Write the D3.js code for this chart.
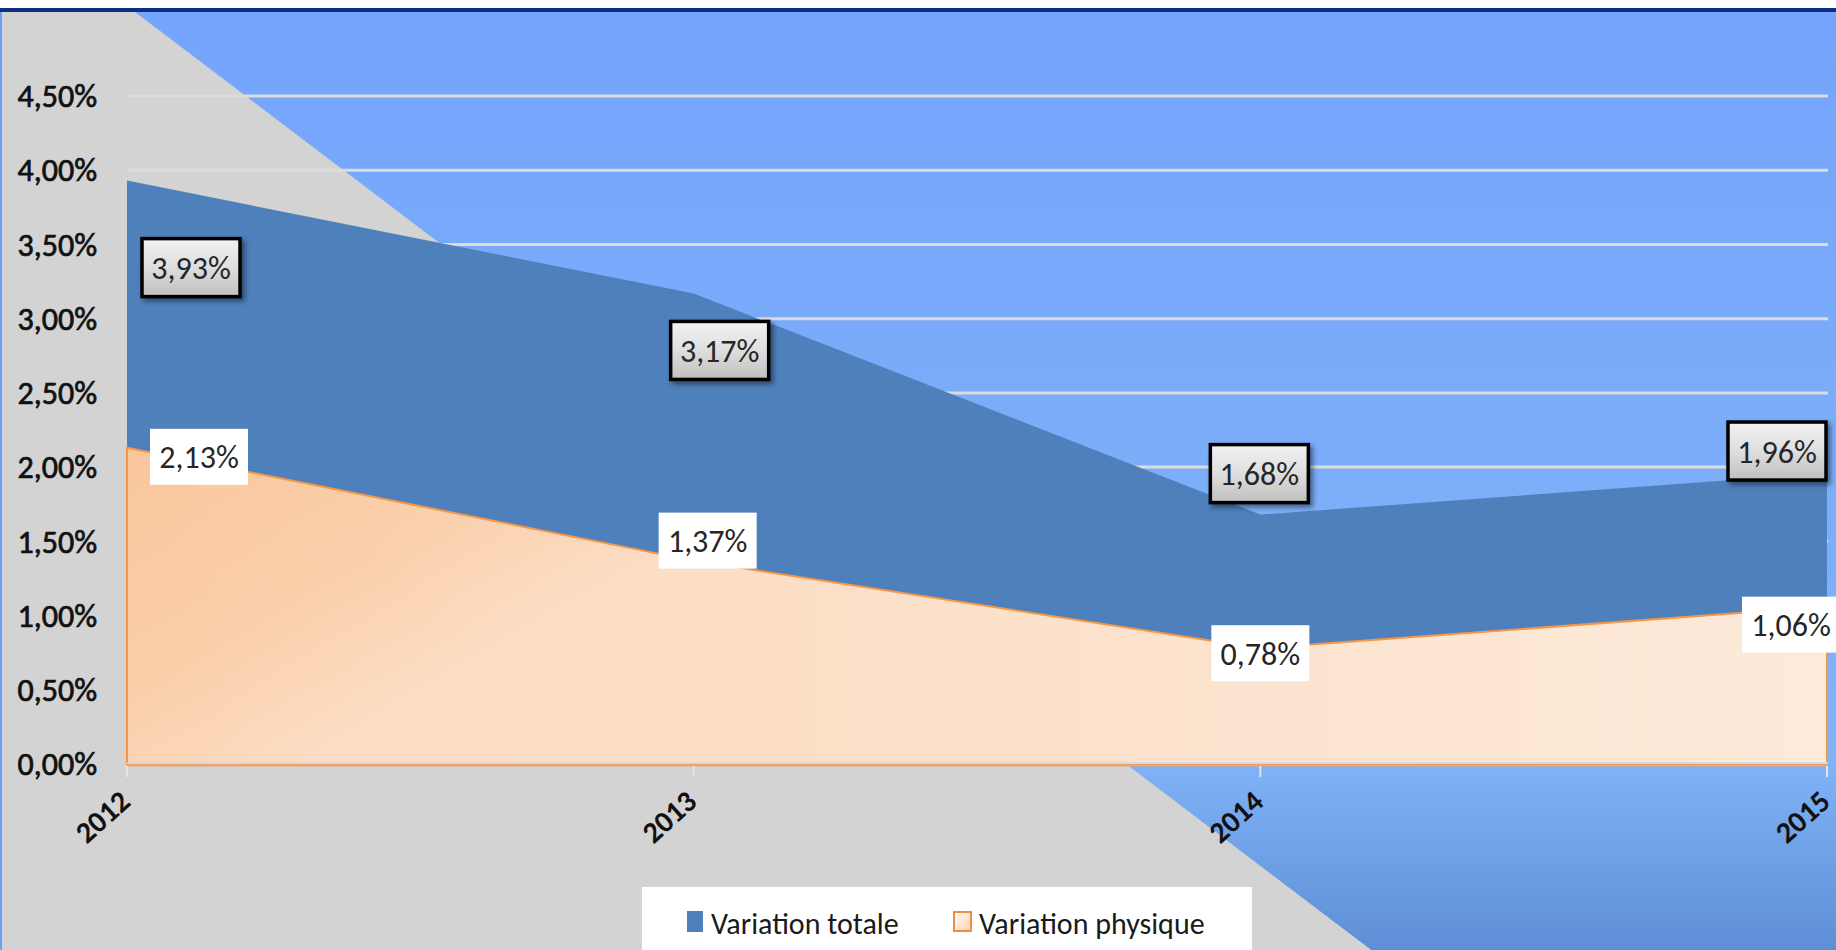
<!DOCTYPE html>
<html>
<head>
<meta charset="utf-8">
<script src="https://cdn.jsdelivr.net/npm/d3@7"></script>
<style>
  html, body { margin: 0; padding: 0; background: #fff; }
  svg { display: block; }
</style>
</head>
<body>
<svg id="chart" width="1836" height="950"></svg>
<script>
// ---- data ----
const years = ["2012", "2013", "2014", "2015"];
const variationTotale = [3.93, 3.17, 1.68, 1.96];
const variationPhysique = [2.13, 1.37, 0.78, 1.06];
const yTicks = [0, 0.5, 1, 1.5, 2, 2.5, 3, 3.5, 4, 4.5];
const seriesNames = ["Variation totale", "Variation physique"];

// ---- layout (label offsets relative to their point) ----
const totalLabelOffsets = [[64, 87], [26, 57], [-1, -41], [-50, -22]];
const physLabelOffsets = [[72, 9], [14, -20], [0, 5], [-36, 18]];

const W = 1836, H = 950;
const FONT = "Carlito, Calibri, Lato, 'Open Sans', sans-serif";
const svg = d3.select("#chart");
const defs = svg.append("defs");

// gradients
const bgGrad = defs.append("linearGradient").attr("id", "bgBlue")
  .attr("x1", 0).attr("y1", 0).attr("x2", 0).attr("y2", 1);
bgGrad.append("stop").attr("offset", "0").attr("stop-color", "#74a4fc");
bgGrad.append("stop").attr("offset", "0.8").attr("stop-color", "#80b3f8");
bgGrad.append("stop").attr("offset", "1").attr("stop-color", "#5e8fd6");

const physGrad = defs.append("linearGradient").attr("id", "physGrad")
  .attr("gradientUnits", "userSpaceOnUse")
  .attr("x1", 127).attr("y1", 448).attr("x2", 300).attr("y2", 764);
physGrad.append("stop").attr("offset", "0").attr("stop-color", "#f9c69c");
physGrad.append("stop").attr("offset", "0.6").attr("stop-color", "#facfaa");
physGrad.append("stop").attr("offset", "1").attr("stop-color", "#fcdcc2");

const physLight = defs.append("linearGradient").attr("id", "physLight")
  .attr("gradientUnits", "userSpaceOnUse")
  .attr("x1", 127).attr("y1", 0).attr("x2", 1827).attr("y2", 0);
physLight.append("stop").attr("offset", "0").attr("stop-color", "#ffffff").attr("stop-opacity", 0);
physLight.append("stop").attr("offset", "0.4").attr("stop-color", "#ffffff").attr("stop-opacity", 0.08);
physLight.append("stop").attr("offset", "1").attr("stop-color", "#ffffff").attr("stop-opacity", 0.4);

const boxGrad = defs.append("linearGradient").attr("id", "boxGrad")
  .attr("x1", 0).attr("y1", 0).attr("x2", 0).attr("y2", 1);
boxGrad.append("stop").attr("offset", "0").attr("stop-color", "#f2f2f2");
boxGrad.append("stop").attr("offset", "0.5").attr("stop-color", "#dedede");
boxGrad.append("stop").attr("offset", "1").attr("stop-color", "#bfbfbf");

const legGrad = defs.append("linearGradient").attr("id", "legGrad")
  .attr("x1", 0).attr("y1", 0).attr("x2", 1).attr("y2", 1);
legGrad.append("stop").attr("offset", "0").attr("stop-color", "#ffffff");
legGrad.append("stop").attr("offset", "1").attr("stop-color", "#fbcfac");

const shadow = defs.append("filter").attr("id", "shadow")
  .attr("x", "-20%").attr("y", "-20%").attr("width", "150%").attr("height", "150%");
shadow.append("feDropShadow").attr("dx", 3).attr("dy", 3).attr("stdDeviation", 2.5)
  .attr("flood-color", "#000").attr("flood-opacity", 0.45);

// ---- background ----
svg.append("rect").attr("x", 0).attr("y", 0).attr("width", W).attr("height", H).attr("fill", "url(#bgBlue)");
svg.append("polygon")
  .attr("points", [[0, 12], [135, 12], [135 + (H - 12) * 1.318, H], [0, H]].map(p => p.join(",")).join(" "))
  .attr("fill", "#d3d3d3");
svg.append("rect").attr("x", 0).attr("y", 0).attr("width", W).attr("height", 8).attr("fill", "#ffffff");
svg.append("rect").attr("x", 0).attr("y", 8).attr("width", W).attr("height", 4).attr("fill", "#0b2e7e");
svg.append("rect").attr("x", 0).attr("y", 12).attr("width", 2).attr("height", H - 12).attr("fill", "#6e9ef6");

// ---- scales ----
const x = d3.scalePoint().domain(years).range([127, 1827]);
const y = d3.scaleLinear().domain([0, 4.5]).range([764, 96]);

const locale = d3.formatLocale({ decimal: ",", thousands: " ", grouping: [3], currency: ["", "€"] });
const fmt = v => locale.format(".2f")(v) + "%";

// ---- gridlines ----
svg.append("g").selectAll("line").data(yTicks.filter(t => t > 0)).join("line")
  .attr("x1", 127).attr("x2", 1828)
  .attr("y1", d => y(d)).attr("y2", d => y(d))
  .attr("stroke", "#dcdcdc").attr("stroke-width", 3);

// ---- areas ----
const totalData = years.map((yr, i) => ({ yr, v: variationTotale[i] }));
const physData = years.map((yr, i) => ({ yr, v: variationPhysique[i] }));
const area = d3.area().x(d => x(d.yr)).y0(y(0)).y1(d => y(d.v));

svg.append("path").datum(totalData).attr("d", area).attr("fill", "#4e80bc");

svg.append("path").datum(physData).attr("d", area).attr("fill", "url(#physGrad)");
svg.append("path").datum(physData).attr("d", area).attr("fill", "url(#physLight)")
  .attr("stroke", "#f79646").attr("stroke-width", 2);

// axis line + ticks
svg.append("line").attr("x1", 127).attr("x2", 1828).attr("y1", y(0) - 1).attr("y2", y(0) - 1)
  .attr("stroke", "#d9d9d9").attr("stroke-width", 2);
svg.append("line").attr("x1", 127).attr("x2", 1828).attr("y1", y(0) + 1.5).attr("y2", y(0) + 1.5)
  .attr("stroke", "#e8a77a").attr("stroke-width", 2);
svg.append("g").selectAll("line").data(years).join("line")
  .attr("x1", d => x(d)).attr("x2", d => x(d)).attr("y1", y(0) + 2).attr("y2", y(0) + 13)
  .attr("stroke", "#e4e4e4").attr("stroke-width", 2);

// ---- y axis labels ----
svg.append("g").selectAll("text").data(yTicks).join("text")
  .attr("x", 97).attr("y", d => y(d))
  .attr("dy", "0.35em")
  .attr("text-anchor", "end")
  .attr("font-family", FONT).attr("font-size", 32).attr("font-weight", 400)
  .attr("fill", "#111").attr("stroke", "#111").attr("stroke-width", 0.7)
  .text(d => fmt(d));

// ---- x axis labels ----
svg.append("g").selectAll("text").data(years).join("text")
  .attr("transform", d => `translate(${x(d) + 5},${y(0) + 40}) rotate(-42)`)
  .attr("text-anchor", "end")
  .attr("font-family", FONT).attr("font-size", 30).attr("font-weight", 800)
  .attr("fill", "#111")
  .text(d => d);

// ---- data labels ----
const BW = 98, BH = 58;
const tl = svg.append("g");
totalData.forEach((d, i) => {
  const cx = x(d.yr) + totalLabelOffsets[i][0];
  const cy = y(d.v) + totalLabelOffsets[i][1];
  tl.append("rect").attr("x", cx - BW / 2).attr("y", cy - BH / 2)
    .attr("width", BW).attr("height", BH)
    .attr("fill", "url(#boxGrad)").attr("stroke", "#000").attr("stroke-width", 3.5)
    .attr("filter", "url(#shadow)");
  tl.append("text").attr("x", cx).attr("y", cy).attr("dy", "0.36em")
    .attr("text-anchor", "middle").attr("font-family", FONT).attr("font-size", 32)
    .attr("fill", "#262626").text(fmt(d.v));
});
const pl = svg.append("g");
physData.forEach((d, i) => {
  const cx = x(d.yr) + physLabelOffsets[i][0];
  const cy = y(d.v) + physLabelOffsets[i][1];
  pl.append("rect").attr("x", cx - 49).attr("y", cy - 28)
    .attr("width", 98).attr("height", 56).attr("fill", "#ffffff");
  pl.append("text").attr("x", cx).attr("y", cy).attr("dy", "0.36em")
    .attr("text-anchor", "middle").attr("font-family", FONT).attr("font-size", 32)
    .attr("fill", "#262626").text(fmt(d.v));
});

// ---- legend ----
const lg = svg.append("g");
lg.append("rect").attr("x", 642).attr("y", 887).attr("width", 610).attr("height", 70).attr("fill", "#ffffff");
lg.append("rect").attr("x", 687).attr("y", 911).attr("width", 16).attr("height", 21).attr("fill", "#4e80bc");
lg.append("rect").attr("x", 954).attr("y", 912).attr("width", 17).attr("height", 19)
  .attr("fill", "url(#legGrad)").attr("stroke", "#e8904a").attr("stroke-width", 2);
lg.append("text").attr("x", 711).attr("y", 934).attr("font-family", FONT).attr("font-size", 30)
  .attr("fill", "#1a1a1a").text(seriesNames[0]);
lg.append("text").attr("x", 979).attr("y", 934).attr("font-family", FONT).attr("font-size", 30)
  .attr("fill", "#1a1a1a").text(seriesNames[1]);
</script>
</body>
</html>
